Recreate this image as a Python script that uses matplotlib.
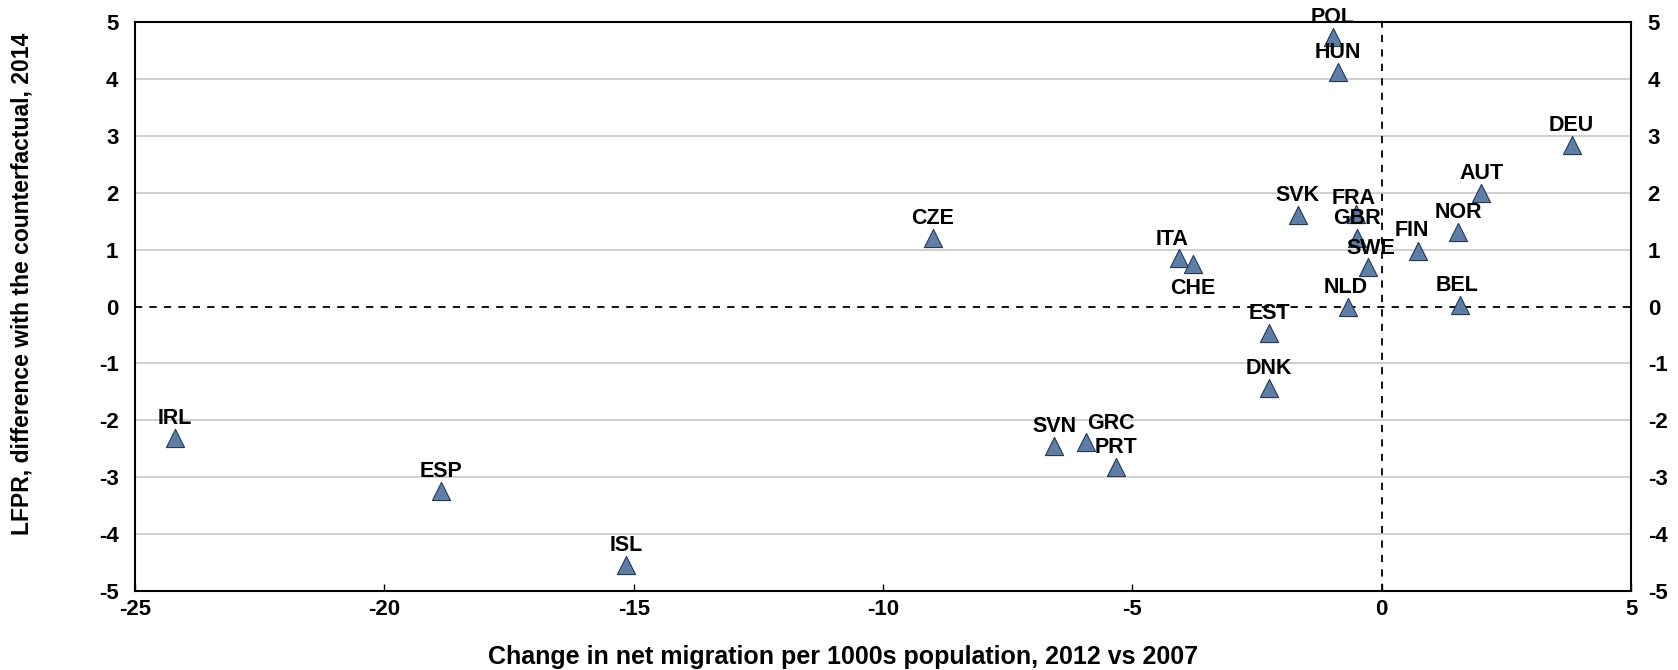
import matplotlib.pyplot as plt

plt.rcParams['font.family'] = ['Liberation Sans', 'DejaVu Sans']
plt.rcParams['axes.unicode_minus'] = False

# data
countries = ["IRL", "ESP", "ISL", "CZE", "SVN", "GRC", "PRT", "ITA", "CHE", "EST",
             "DNK", "SVK", "POL", "HUN", "NLD", "FRA", "GBR", "SWE", "FIN", "NOR",
             "BEL", "AUT", "DEU"]
migration = [-24.2, -18.86, -15.15, -9.0, -6.57, -5.93, -5.33, -4.07, -3.79, -2.26,
             -2.26, -1.68, -0.98, -0.88, -0.68, -0.52, -0.50, -0.28, 0.72, 1.53,
             1.58, 2.0, 3.81]
lfpr_diff = [-2.32, -3.24, -4.54, 1.2, -2.45, -2.38, -2.82, 0.86, 0.74, -0.47,
             -1.43, 1.61, 4.74, 4.12, 0.0, 1.63, 1.2, 0.69, 0.98, 1.31,
             0.03, 1.99, 2.84]

# label offsets in pixels (dx, dy) from the marker centre
offsets = {"CHE": (0, -14), "GRC": (25, 8), "ITA": (-7, 8), "FRA": (-2, 5),
           "SWE": (3, 8), "FIN": (-6, 10), "BEL": (-3, 9), "NLD": (-2, 9)}

fig = plt.figure(figsize=(16.78, 6.70), dpi=100)
ax = fig.add_axes([0.0805, 0.118, 0.8915, 0.849])

ax.set_xlim(-25, 5)
ax.set_ylim(-5, 5)
ax.set_yticks(range(-5, 6))
ax.set_xticks(range(-25, 6, 5))

for y in range(-5, 6):
    if y != 0:
        ax.axhline(y, color="#c8c8c8", lw=1.2, zorder=0)
ax.axhline(0, color="black", lw=1.3, ls=(0, (4, 4)), zorder=1)
ax.axvline(0, color="black", lw=1.3, ls=(0, (4, 4)), zorder=1)

ax.scatter(migration, lfpr_diff, marker="^", s=170, color="#5e7ea6",
           edgecolor="#24385a", linewidth=0.8, zorder=3)

for name, x, y in zip(countries, migration, lfpr_diff):
    dx, dy = offsets.get(name, (0, 9))
    va = "top" if dy < 0 else "bottom"
    ax.annotate(name, (x, y), xytext=(dx, dy), textcoords="offset pixels",
                ha="center", va=va, fontsize=15.5, fontweight="bold", zorder=4)

for s in ax.spines.values():
    s.set_linewidth(1.5)
    s.set_color("black")

ax.tick_params(axis="x", direction="in", length=5, width=1, labelsize=16, pad=6)
ax.tick_params(axis="y", length=0, labelsize=16, pad=12, labelright=True)
for lab in ax.get_xticklabels() + ax.get_yticklabels():
    lab.set_fontweight("bold")

ax.set_xlabel("Change in net migration per 1000s population, 2012 vs 2007",
              fontsize=18, fontweight="bold")
ax.set_ylabel("LFPR, difference with the counterfactual, 2014",
              fontsize=16.5, fontweight="bold")
ax.xaxis.set_label_coords(0.473, -0.095)
ax.yaxis.set_label_coords(-0.068, 0.54)

fig.savefig("out.png", dpi=100)
